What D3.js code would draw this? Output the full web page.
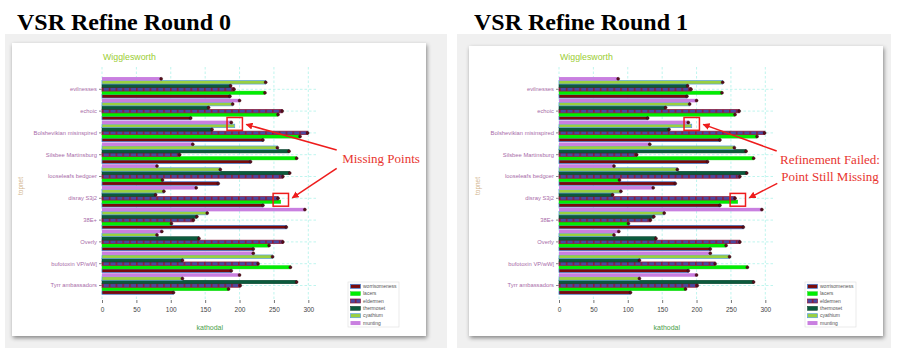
<!DOCTYPE html>
<html><head><meta charset="utf-8">
<script src="https://cdn.jsdelivr.net/npm/d3@7"></script>
<style>body{margin:0;background:#fff;} svg{display:block}</style>
</head><body><svg id="c" width="897" height="362"></svg>
<script>
const categories = ["evilnesses","echoic","Bolshevikian misinspired","Silsbee Martinsburg","looseleafs bedgoer","disray S3j2","38E+","Overly","bufotoxin VP/wW[","Tyrr ambassadors"];
const seriesNames = ["worrisomeness","lacers","eldermen","thermoset","cyathium","munting"];
const worrisomeness = [186,129,234,216,169,234,268,220,188,104];
const lacers        = [237,256,288,283,88,260,101,243,274,184];
const eldermen      = [192,262,299,113,263,256,133,263,227,201];
const thermoset     = [187,155,160,272,273,78,138,141,117,283];
const cyathium      = [238,190,193,255,172,90,153,80,248,117];
const munting       = [86,200,188,132,80,137,295,87,220,200];
const xTicks = [0,50,100,150,200,250,300];
const panelTitles = ["VSR Refine Round 0","VSR Refine Round 1"];
const missingPoints = [["Bolshevikian misinspired","cyathium"],["disray S3j2","lacers"]];
const noteTexts = [["Missing Points"],["Refinement Failed:","Point Still Missing"]];

const values = {worrisomeness, lacers, eldermen, thermoset, cyathium, munting};
const styles = {
  worrisomeness:{fill:"#7a0a0a", stroke:"#3d7fd6", sw:0.7},
  lacers:{fill:"#00ee00", stroke:"#22cc22", sw:0.4},
  eldermen:{fill:"url(#eldPat)", stroke:"#8b1a3a", sw:0.7},
  thermoset:{fill:"#0b5a3c", stroke:"#063a26", sw:0.5},
  cyathium:{fill:"#9ad040", stroke:"#5a9ee0", sw:0.7},
  munting:{fill:"#c97fe0", stroke:"none", sw:0}
};

const svg = d3.select("#c");
const defs = svg.append("defs");
const pat = defs.append("pattern").attr("id","eldPat").attr("patternUnits","userSpaceOnUse")
  .attr("width",6.8).attr("height",10);
pat.append("rect").attr("width",6.8).attr("height",10).attr("fill","#4a48a0");
pat.append("rect").attr("x",0).attr("width",1.6).attr("height",10).attr("fill","#8b1a3a");
const f = defs.append("filter").attr("id","shadow").attr("x","-5%").attr("y","-5%").attr("width","112%").attr("height","115%");
f.append("feDropShadow").attr("dx",1).attr("dy",2).attr("stdDeviation",2).attr("flood-color","#000").attr("flood-opacity",0.45);
const mk = defs.append("marker").attr("id","arrow").attr("viewBox","0 0 10 10").attr("refX",9).attr("refY",5)
  .attr("markerWidth",7).attr("markerHeight",7).attr("orient","auto-start-reverse").attr("markerUnits","userSpaceOnUse");
mk.append("path").attr("d","M0,0 L10,5 L0,10 z").attr("fill","#ee1c1c");

function panel(pi){
  const ox = pi*457;
  const g = svg.append("g").attr("transform",`translate(${ox},0)`);
  g.append("rect").attr("x",pi===0?5:0).attr("y",34).attr("width",pi===0?442:434).attr("height",314).attr("fill","#f0f0f0");
  g.append("text").attr("x",17).attr("y",30).text(panelTitles[pi])
    .attr("font-family","'Liberation Serif','Times New Roman',serif").attr("font-weight","bold").attr("font-size",24).attr("fill","#000");
  g.append("rect").attr("x",12).attr("y",pi===0?43:46).attr("width",414).attr("height",pi===0?293:290).attr("fill","#fff").attr("filter","url(#shadow)");

  const x = d3.scaleLinear().domain([0,313.5]).range([102,317.6]);
  const y = d3.scaleBand().domain(categories).range([78.4,296.4]);
  const inner = d3.scaleBand().domain(seriesNames.slice().reverse()).range([-12.25,8.75]);
  const yTop = 67, yBot = 300;

  // grid
  g.append("g").selectAll("line").data(xTicks).join("line")
    .attr("x1",d=>x(d)).attr("x2",d=>x(d)).attr("y1",yTop).attr("y2",yBot)
    .attr("stroke","#aef2ea").attr("stroke-width",0.8).attr("stroke-dasharray","2.5,2");
  g.append("g").selectAll("line").data(categories).join("line")
    .attr("x1",x(0)).attr("x2",x.range()[1]).attr("y1",d=>y(d)+y.bandwidth()/2).attr("y2",d=>y(d)+y.bandwidth()/2)
    .attr("stroke","#aef2ea").attr("stroke-width",0.8).attr("stroke-dasharray","2.5,2");

  // bars
  seriesNames.forEach(s=>{
    const st = styles[s];
    g.append("g").selectAll("rect").data(values[s]).join("rect")
      .attr("x",x(0)).attr("y",(d,i)=>y(categories[i])+y.bandwidth()/2+inner(s))
      .attr("width",d=>x(d)-x(0)).attr("height",inner.bandwidth())
      .attr("fill",st.fill).attr("stroke",st.stroke).attr("stroke-width",st.sw);
  });
  // points
  seriesNames.forEach(s=>{
    const pts = values[s].map((v,i)=>({v,c:categories[i]}))
      .filter(p=>!missingPoints.some(m=>m[0]===p.c && m[1]===s));
    g.append("g").selectAll("circle").data(pts).join("circle")
      .attr("cx",p=>x(p.v)).attr("cy",p=>y(p.c)+y.bandwidth()/2+inner(s)+inner.bandwidth()/2)
      .attr("r",1.5).attr("fill","#5a0d1c").attr("stroke","#2a0508").attr("stroke-width",0.4);
  });

  // axes
  const xa = g.append("g").attr("transform",`translate(0,${yBot})`)
    .call(d3.axisBottom(x).tickValues(xTicks).tickSize(3).tickPadding(4));
  xa.select(".domain").remove();
  xa.selectAll("line").attr("stroke","#777");
  xa.selectAll("text").attr("font-family","'Liberation Sans',Arial,sans-serif").attr("font-size",6.5).attr("fill","#444");
  const ya = g.append("g").attr("transform",`translate(${x(0)},0)`)
    .call(d3.axisLeft(y).tickSize(3).tickPadding(2));
  ya.select(".domain").remove();
  ya.selectAll("line").attr("stroke","#888");
  ya.selectAll("text").attr("font-family","'Liberation Sans',Arial,sans-serif").attr("font-size",5.8).attr("fill","#a86aa8");

  g.append("text").attr("x",103).attr("y",59.5).text("Wigglesworth")
    .attr("font-family","'Liberation Sans',Arial,sans-serif").attr("font-size",8.8).attr("fill","#9acd32");
  g.append("text").attr("x",(x.range()[0]+x.range()[1])/2).attr("y",330).attr("text-anchor","middle").text("kathodal")
    .attr("font-family","'Liberation Sans',Arial,sans-serif").attr("font-size",7).attr("fill","#4a9e4a");
  g.append("text").attr("transform","translate(23,186) rotate(-90)").attr("text-anchor","middle").text("topnet")
    .attr("font-family","'Liberation Sans',Arial,sans-serif").attr("font-size",6.5).attr("fill","#d2b48c");

  // legend
  const lg = g.append("g").attr("transform","translate(348,282)");
  lg.append("rect").attr("width",51).attr("height",45).attr("fill","#fff").attr("stroke","#ddd").attr("stroke-width",0.6);
  seriesNames.forEach((s,i)=>{
    const st = styles[s];
    const yy = 4.3 + i*7.35;
    lg.append("rect").attr("x",2.5).attr("y",yy-2).attr("width",10).attr("height",4)
      .attr("fill",st.fill).attr("stroke",st.stroke).attr("stroke-width",st.sw);
    lg.append("text").attr("x",15).attr("y",yy+1.7).text(s)
      .attr("font-family","'Liberation Sans',Arial,sans-serif").attr("font-size",5).attr("fill","#555");
  });

  // annotations
  const red = "#ee1c1c";
  const boxes = missingPoints.map(([c,s])=>{
    const v = values[s][categories.indexOf(c)];
    return {cx:x(v), cy:y(c)+y.bandwidth()/2+inner(s)+inner.bandwidth()/2 - 2};
  });
  boxes.forEach(b=>{
    g.append("rect").attr("x",b.cx-7.7).attr("y",b.cy-6.4).attr("width",15.4).attr("height",12.8)
      .attr("fill","none").attr("stroke",red).attr("stroke-width",1.5);
  });
  const notes = noteTexts[pi];
  const tx = pi===0 ? 381 : 373;
  notes.forEach((t,k)=>{
    g.append("text").attr("x",tx).attr("y",(pi===0?163:164)+k*16.8).attr("text-anchor","middle").text(t)
      .attr("font-family","'Liberation Serif','Times New Roman',serif").attr("font-size",13).attr("fill","#e8352f");
  });
  const tails = pi===0 ? [[336.7,150],[336.7,168.3]] : [[319.7,151],[320.3,183.3]];
  boxes.forEach((b,k)=>{
    g.append("line").attr("x1",tails[k][0]).attr("y1",tails[k][1])
      .attr("x2",b.cx+11.5).attr("y2",b.cy+ (k===0?0.5:-2))
      .attr("stroke",red).attr("stroke-width",1.5).attr("marker-end","url(#arrow)");
  });
}
panel(0); panel(1);
</script></body></html>
